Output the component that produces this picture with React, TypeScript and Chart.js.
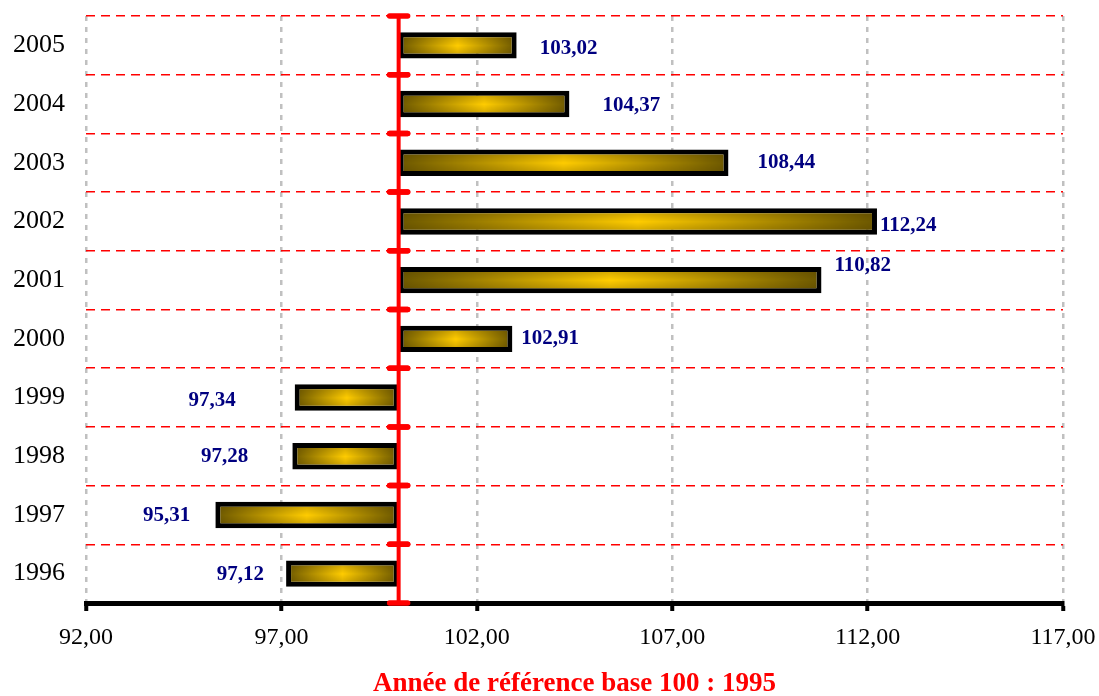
import React, { useEffect, useRef } from "react";
import { Chart, registerables } from "chart.js";

Chart.register(...registerables);

const years = ["1996", "1997", "1998", "1999", "2000", "2001", "2002", "2003", "2004", "2005"];
const indexValues = [97.12, 95.31, 97.28, 97.34, 102.91, 110.82, 112.24, 108.44, 104.37, 103.02];
const baseValue = 100;
const axisMin = 92;
const axisMax = 117;
const axisStep = 5;
const axisTitle = "Année de référence base 100 : 1995";

// label nudges (styling only, px relative to bar end)
const labelNudgeX = [-22, -25, -44, -59, 9, 13, 3, 29, 33, 23];
const labelNudgeY = [1, 1, 0, 3, 0, -15, 4, 0, 2, 3];

const SERIF = '"Liberation Serif", "Times New Roman", serif';
const BAR_PCT = 0.45;

const fmt = (v: number) => v.toFixed(2).replace(".", ",");

const valueLabels = {
  id: "valueLabels",
  afterDatasetsDraw(chart: any) {
    const { ctx } = chart;
    const meta = chart.getDatasetMeta(0);
    const xs = chart.scales.x;
    ctx.save();
    ctx.font = `bold 21px ${SERIF}`;
    ctx.fillStyle = "#000080";
    ctx.textBaseline = "middle";
    meta.data.forEach((el: any, i: number) => {
      const v = indexValues[i];
      const pos = v >= baseValue;
      const px = xs.getPixelForValue(v);
      ctx.textAlign = pos ? "left" : "right";
      ctx.fillText(fmt(v), px + labelNudgeX[i], el.y + labelNudgeY[i]);
    });
    ctx.restore();
  },
};

const baseLine = {
  id: "baseLine",
  afterDraw(chart: any) {
    const { ctx, chartArea, scales } = chart;
    const x = scales.x;
    const y = scales.y;
    const px = x.getPixelForValue(baseValue);
    ctx.save();
    ctx.strokeStyle = "#ff0000";
    ctx.lineCap = "butt";
    ctx.lineWidth = 4;
    ctx.beginPath();
    ctx.moveTo(px, chartArea.top);
    ctx.lineTo(px, chartArea.bottom);
    ctx.stroke();
    const step = Math.abs(y.getPixelForValue(1) - y.getPixelForValue(0));
    ctx.lineWidth = 5.5;
    ctx.lineCap = "round";
    const bounds: number[] = [];
    for (let i = 0; i < years.length; i++) {
      const c = y.getPixelForValue(i);
      bounds.push(c - step / 2, c + step / 2);
    }
    bounds.forEach((b) => {
      ctx.beginPath();
      ctx.moveTo(px - 9, b);
      ctx.lineTo(px + 9, b);
      ctx.stroke();
    });
    ctx.restore();
  },
};

function barFill(c: any) {
  const chart = c.chart;
  if (!chart.chartArea || c.dataIndex == null || c.type !== "data") return "#d4aa00";
  try {
    const xs = chart.scales.x;
    const ys = chart.scales.y;
    const v = indexValues[c.dataIndex];
    const x0 = xs.getPixelForValue(Math.min(baseValue, v));
    const x1 = xs.getPixelForValue(Math.max(baseValue, v));
    const step = Math.abs(ys.getPixelForValue(1) - ys.getPixelForValue(0));
    const h = step * BAR_PCT;
    const top = ys.getPixelForValue(c.dataIndex) - h / 2;
    const w = Math.max(2, Math.round(x1 - x0));
    const hh = Math.max(2, Math.ceil(h));
    const off = document.createElement("canvas");
    off.width = w;
    off.height = hh;
    const o = off.getContext("2d") as CanvasRenderingContext2D;
    const g = o.createLinearGradient(0, 0, w, 0);
    g.addColorStop(0, "#6b5700");
    g.addColorStop(0.5, "#ffcc00");
    g.addColorStop(1, "#6b5700");
    o.fillStyle = g;
    o.fillRect(0, 0, w, hh);
    const gv = o.createLinearGradient(0, 0, 0, hh);
    gv.addColorStop(0, "rgba(70,50,0,0.35)");
    gv.addColorStop(0.5, "rgba(70,50,0,0)");
    gv.addColorStop(1, "rgba(70,50,0,0.35)");
    o.fillStyle = gv;
    o.fillRect(0, 0, w, hh);
    const p = chart.ctx.createPattern(off, "no-repeat");
    if (!p) return "#d4aa00";
    p.setTransform(new DOMMatrix([1, 0, 0, 1, x0, top]));
    return p;
  } catch (e) {
    return "#d4aa00";
  }
}

export default function App() {
  const ref = useRef<HTMLCanvasElement | null>(null);
  useEffect(() => {
    if (!ref.current) return;
    const chart = new Chart(ref.current, {
      type: "bar",
      data: {
        labels: years,
        datasets: [
          {
            data: indexValues.map((v) => [baseValue, v]),
            borderColor: "#000000",
            borderWidth: 5,
            borderSkipped: false,
            barPercentage: BAR_PCT,
            categoryPercentage: 1,
            backgroundColor: barFill,
          } as any,
        ],
      },
      options: {
        indexAxis: "y",
        responsive: false,
        animation: false,
        layout: { padding: { top: 16, right: 36, left: 0, bottom: 0 } },
        plugins: {
          legend: { display: false },
          tooltip: { enabled: false },
        },
        scales: {
          x: {
            type: "linear",
            min: axisMin,
            max: axisMax,
            afterFit: (s: any) => {
              s.height = 93;
              s.paddingLeft = 0;
              s.paddingRight = 0;
            },
            ticks: {
              stepSize: axisStep,
              color: "#000",
              font: { family: SERIF, size: 24 },
              padding: 12,
              callback: (v: any) => fmt(Number(v)),
            },
            grid: {
              color: "#c0c0c0",
              lineWidth: 2.5,
              tickColor: "#000",
              tickWidth: 4,
              tickLength: 8,
              tickBorderDash: [],
            },
            border: { display: true, color: "#000", width: 5, dash: [5, 6] },
            title: {
              display: true,
              text: axisTitle,
              color: "#ff0000",
              font: { family: SERIF, size: 27, weight: "bold", lineHeight: 0.9 },
              padding: { top: 0, bottom: 0 },
            },
          },
          y: {
            type: "category",
            reverse: true,
            offset: true,
            afterFit: (s: any) => {
              s.width = 86;
              s.paddingTop = 0;
              s.paddingBottom = 0;
            },
            ticks: {
              color: "#000",
              font: { family: SERIF, size: 26 },
              padding: 21,
            },
            grid: {
              offset: true,
              color: "#ff0000",
              lineWidth: 1.5,
              drawTicks: false,
            },
            border: { display: false, dash: [9, 6] },
          },
        },
      } as any,
      plugins: [valueLabels, baseLine],
    });
    return () => chart.destroy();
  }, []);
  return (
    <div style={{ position: "fixed", left: 0, top: 0, width: 1099, height: 696, background: "#fff" }}>
      <canvas ref={ref} width={1099} height={696} style={{ display: "block" }} />
    </div>
  );
}
